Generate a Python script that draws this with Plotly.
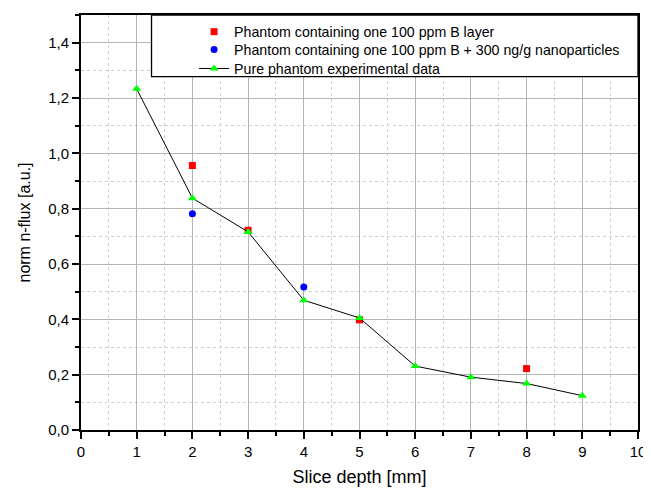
import plotly.graph_objects as go

pure_x = [1, 2, 3, 4, 5, 6, 7, 8, 9]
pure_y = [1.233, 0.838, 0.716, 0.469, 0.405, 0.231, 0.191, 0.168, 0.124]
red_x = [2, 3, 5, 8]
red_y = [0.956, 0.722, 0.398, 0.222]
blue_x = [2, 4]
blue_y = [0.782, 0.517]

names = ["Phantom containing one 100 ppm B layer",
         "Phantom containing one 100 ppm B + 300 ng/g nanoparticles",
         "Pure phantom experimental data"]

fig = go.Figure()
fig.add_trace(go.Scatter(x=red_x, y=red_y, mode="markers", name=names[0], legend="legend",
                         marker=dict(symbol="square", size=7, color="#ff0000")))
fig.add_trace(go.Scatter(x=blue_x, y=blue_y, mode="markers", name=names[1], legend="legend2",
                         marker=dict(symbol="circle", size=7, color="#0000ff")))
fig.add_trace(go.Scatter(x=pure_x, y=pure_y, mode="lines+markers", name=names[2], legend="legend3",
                         line=dict(color="black", width=1),
                         marker=dict(symbol="triangle-up", size=8, color="#00ff00")))

font = "Arial, Liberation Sans, sans-serif"
leg = dict(x=0.203, xanchor="left", yanchor="middle", bgcolor="rgba(0,0,0,0)",
           borderwidth=0, font=dict(size=14.2), itemwidth=30)
# page body has an 8px default margin, so the figure is made 8px smaller
fig.update_layout(
    width=643, height=481,
    margin=dict(l=73, r=9, t=5, b=59),
    paper_bgcolor="white", plot_bgcolor="white",
    separators=",.",
    font=dict(family=font, size=15, color="black"),
    showlegend=True,
    legend=dict(leg, y=0.9592),
    legend2=dict(leg, y=0.9161),
    legend3=dict(leg, y=0.8705),
    xaxis=dict(range=[0, 10], dtick=1, tickformat="d",
               showline=True, linecolor="black", linewidth=2, mirror=True,
               ticks="outside", ticklen=7, tickwidth=1.5, tickcolor="black",
               showgrid=True, gridcolor="#b4b4b4", gridwidth=1.3,
               minor=dict(dtick=0.5, ticks="outside", ticklen=4, tickcolor="black",
                          showgrid=True, gridcolor="#cfcfcf", griddash="dot", gridwidth=1),
               zeroline=False,
               title=dict(text="Slice depth [mm]", font=dict(size=18), standoff=11)),
    yaxis=dict(range=[0, 1.5], dtick=0.2, tickformat=".1f",
               showline=True, linecolor="black", linewidth=2, mirror=True,
               ticks="outside", ticklen=7, tickwidth=1.5, tickcolor="black",
               showgrid=True, gridcolor="#b4b4b4", gridwidth=1.3,
               minor=dict(dtick=0.1, ticks="outside", ticklen=4, tickcolor="black",
                          showgrid=True, gridcolor="#cfcfcf", griddash="dot", gridwidth=1),
               zeroline=False,
               title=dict(text="norm n-flux [a.u.]", font=dict(size=16), standoff=14)),
    shapes=[dict(type="rect", xref="paper", yref="paper",
                 x0=0.1266, x1=1.0, y0=0.8513, y1=1.0,
                 line=dict(color="black", width=1.3), fillcolor="white", layer="above")],
)
fig.write_html("out.html")
